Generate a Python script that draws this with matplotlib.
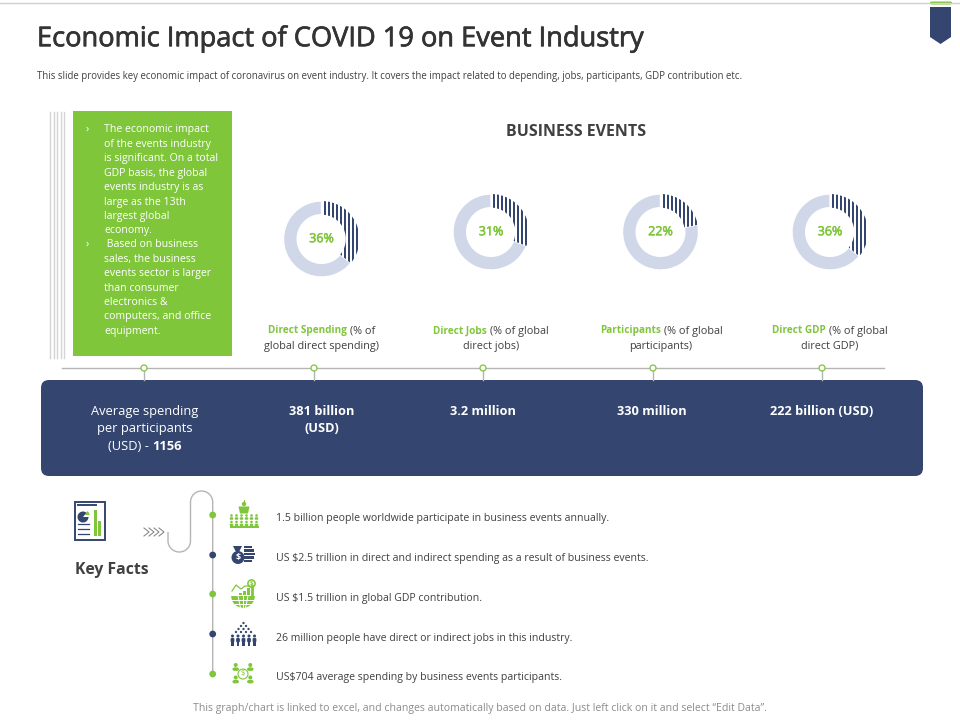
#!/usr/bin/env python3
"""Economic impact of COVID 19 slide, redrawn in pixel coordinates."""

import numpy as np
import matplotlib
matplotlib.use("Agg")
import matplotlib.pyplot as plt
import matplotlib.patheffects as pe
from matplotlib.patches import Circle, FancyBboxPatch, Polygon, Rectangle, Wedge, PathPatch
from matplotlib.path import Path

plt.rcParams["font.family"] = ["Open Sans", "DejaVu Sans"]

NAVY = "#34466F"
GREEN = "#7FC63B"
PALE = "#CFD7E8"
DARK = "#404040"
GREY = "#B5B5B5"

# donut values
shares = [36, 31, 22, 36]
donut_x = [321.5, 491, 660.5, 830]
donut_y = [239, 232, 232, 232]
caption_green = ["Direct Spending", "Direct Jobs", "Participants", "Direct GDP"]
caption_rest = ["(% of", "(% of global", "(% of global", "(% of global"]
caption_second = ["global direct spending)", "direct jobs)", "participants)", "direct GDP)"]
caption_x = [322, 491, 661, 830]

# band under the donuts
band_x = [322, 483, 652, 822]
band_values = [["381 billion", "(USD)"], ["3.2 million"], ["330 million"], ["222 billion (USD)"]]
node_x = [144, 314, 483, 653, 822]

panel_lines = [
    "The economic impact", "of the events industry", "is significant. On a total",
    "GDP basis, the global", "events industry is as", "large as the 13th",
    "largest global", "economy.", " Based on business", "sales, the business",
    "events sector is larger", "than consumer", "electronics &",
    "computers, and office", "equipment.",
]
panel_y = [128, 143, 157, 172, 186, 201, 215, 229, 243, 258, 272, 287, 301, 315, 330]

facts = [
    "1.5 billion people worldwide participate in business events annually.",
    "US $2.5 trillion in direct and indirect spending as a result of business events.",
    "US $1.5 trillion in global GDP contribution.",
    "26 million people have direct or indirect jobs in this industry.",
    "US$704 average spending by business events participants.",
]
fact_y = [517, 557, 597, 637, 676]
dot_y = [515, 555, 594, 634, 674]

fig = plt.figure(figsize=(9.6, 7.2), dpi=100)
ax = fig.add_axes([0, 0, 1, 1])
ax.set_xlim(0, 960)
ax.set_ylim(720, 0)
ax.axis("off")


def txt(x, y, s, size=7.5, color=DARK, ha="left", weight="normal", **kw):
    # y is the middle of the capitals, converted to a baseline so mixed runs line up
    return ax.text(x, y + 0.47 * size, s, fontsize=size, color=color, ha=ha, va="baseline",
                   fontweight=weight, **kw)


def runs(cx, y, parts):
    """Centre a line made of differently styled pieces on cx."""
    renderer = fig.canvas.get_renderer()
    items = [txt(0, y, s, size=z, color=c, weight=w) for s, c, w, z in parts]
    widths = [t.get_window_extent(renderer).width for t in items]
    gap = parts[-1][3] * 0.4
    total = sum(widths) + gap * (len(items) - 1)
    x = cx - total / 2
    for t, w in zip(items, widths):
        t.set_x(x)
        x += w + gap


def person(x, y, color, head=1.5, w=3.6, h=5):
    ax.add_patch(Circle((x, y), head, fc=color, lw=0))
    ax.add_patch(FancyBboxPatch((x - w / 2, y + head + 0.4), w, h,
                                boxstyle="round,pad=0,rounding_size=%.2f" % (w * 0.35),
                                fc=color, lw=0))


def icon_crowd(cx, cy):
    ax.add_patch(Circle((cx, cy - 10), 2.2, fc=GREEN, lw=0))
    ax.plot([cx, cx], [cy - 14, cy - 12], color=GREEN, lw=0.8)
    ax.add_patch(Polygon([(cx - 5.5, cy - 7.5), (cx + 5.5, cy - 7.5), (cx + 4, cy - 0.5), (cx - 4, cy - 0.5)],
                         fc=GREEN, lw=0))
    for row_y in (cy + 1.5, cy + 8):
        for i in range(6):
            person(cx - 12.5 + i * 5, row_y, GREEN, head=1.3, w=3.6, h=2.6)
    ax.add_patch(Rectangle((cx - 14.5, cy + 11.5), 29, 2.3, fc=GREEN, lw=0))


def icon_money(cx, cy):
    ax.add_patch(Circle((cx - 5, cy + 2.5), 6.5, fc=NAVY, lw=0))
    ax.add_patch(Polygon([(cx - 10, cy - 9), (cx - 1, cy - 9), (cx - 4, cy - 3), (cx - 7, cy - 3)],
                         fc=NAVY, lw=0))
    ax.text(cx - 5, cy + 3, "$", fontsize=6.5, color="white", ha="center", va="center", fontweight="bold")
    for i, w in enumerate((8, 10, 11, 10, 8)):
        ax.add_patch(Rectangle((cx + 1, cy - 9 + i * 3.4), w, 2.3, fc=NAVY, lw=0))


def icon_globe(cx, cy):
    # y axis runs downwards, so 0-180 is the lower half
    ax.add_patch(Wedge((cx, cy + 2), 11.8, 0, 180, fc=GREEN, lw=0))
    for dx in (-5, 0, 5):
        ax.plot([cx + dx, cx + dx * 0.5], [cy + 2, cy + 14], color="white", lw=0.7)
    for dy, half in ((5.5, 11), (9.5, 8)):
        ax.plot([cx - half, cx + half], [cy + dy, cy + dy], color="white", lw=0.7)
    for dx, h in ((-4, 2.5), (0, 4), (4, 7)):
        ax.add_patch(Rectangle((cx + dx, cy + 1 - h), 2.6, h, fc=GREEN, lw=0))
    ax.plot([cx - 11, cx - 7, cx - 2, cx + 2, cx + 7], [cy - 3, cy - 9, cy - 5, cy - 8, cy - 8],
            color=GREEN, lw=0.9)
    ax.plot([cx + 8.5, cx + 8.5], [cy - 8, cy + 1], color=GREEN, lw=2)
    ax.add_patch(Circle((cx + 8.5, cy - 10.5), 3.6, fc="white", ec=GREEN, lw=1.1))
    ax.text(cx + 8.5, cy - 10.5, "$", fontsize=4.5, color=GREEN, ha="center", va="center", fontweight="bold")


def icon_pyramid(cx, cy):
    for row in range(4):
        for i in range(row + 1):
            ax.add_patch(Circle((cx + (i - row / 2) * 5, cy - 11 + row * 3), 1.15, fc=NAVY, lw=0))
    for i in range(5):
        person(cx - 11 + i * 5.5, cy + 2, NAVY, head=1.5, w=3.8, h=4.5)
        ax.add_patch(Rectangle((cx - 12.2 + i * 5.5, cy + 7), 2.4, 5, fc=NAVY, lw=0))


def icon_ring(cx, cy):
    ax.add_patch(Circle((cx, cy), 5, fc="white", ec=GREEN, lw=0.8))
    ax.text(cx, cy, "$", fontsize=5.5, color=GREEN, ha="center", va="center")
    for dx, dy in ((-7.3, -6.5), (7.3, -6.5), (-7.3, 6), (7.3, 6)):
        person(cx + dx, cy + dy - 2.5, GREEN, head=2, w=7, h=3.5)


# top strip and pennant
ax.plot([0, 960], [3, 3], color="#D0D0D0", lw=1)
ax.add_patch(FancyBboxPatch((930, 1.5), 22, 3, boxstyle="round,pad=0,rounding_size=1.5", fc=GREEN, lw=0))
ax.add_patch(Polygon([(930, 7), (951, 7), (951, 37), (940.5, 44), (930, 37)], fc=NAVY, lw=0))

txt(37, 37, "Economic Impact of COVID 19 on Event Industry", size=19.6, color="#333333",
    path_effects=[pe.withStroke(linewidth=0.5, foreground="#333333")])
txt(37, 76, "This slide provides key economic impact of coronavirus on event industry. It covers the "
    "impact related to depending, jobs, participants, GDP contribution etc.", size=6.95)

# left panel
for x in (50, 53.5, 57, 60.5, 64):
    ax.plot([x, x], [112, 358], color="#D4D4D4", lw=1)
ax.add_patch(Rectangle((73, 111), 159, 245, fc=GREEN, lw=0))
for y in (128, 243):
    txt(87, y, "›", size=8, color="white", ha="center")
for y, s in zip(panel_y, panel_lines):
    txt(104, y, s, size=7.6, color="white")

txt(576, 131, "BUSINESS EVENTS", size=11.5, ha="center", weight="bold")

# donuts
R = 38
for share, x, y in zip(shares, donut_x, donut_y):
    dax = fig.add_axes([(x - R) / 960, 1 - (y + R) / 720, 2 * R / 960, 2 * R / 720])
    wedges, _ = dax.pie([share, 100 - share], startangle=90, counterclock=False, radius=1,
                        colors=["white", PALE], wedgeprops={"width": 0.36, "linewidth": 0})
    wedges[1].set_edgecolor("white")
    wedges[1].set_linewidth(1)
    # vertical stripes, 4 px apart, cut to the wedge of the share
    for sx in np.arange(3, R + 1, 4) / R:
        stripe, = dax.plot([sx, sx], [-1, 1], color=NAVY, lw=1.44, solid_capstyle="butt")
        stripe.set_clip_path(wedges[0])
    dax.set_xlim(-1, 1)
    dax.set_ylim(-1, 1)
    dax.axis("off")
    dax.patch.set_alpha(0)
    txt(x, y - 1, "%d%%" % share, size=9, color=GREEN, ha="center",
        path_effects=[pe.withStroke(linewidth=0.4, foreground=GREEN)])

for cx, g, rest, second in zip(caption_x, caption_green, caption_rest, caption_second):
    runs(cx, 330, [(g, GREEN, "bold", 7.2), (rest, DARK, "normal", 7.8)])
    txt(cx, 345, second, size=7.8, ha="center")

# timeline and band
ax.plot([62, 884], [368, 368], color=GREY, lw=1)
for x in node_x:
    ax.plot([x, x], [368, 380], color=GREY, lw=1)
    ax.add_patch(Circle((x, 368), 3, fc="white", ec=GREEN, lw=0.9, zorder=3))
ax.add_patch(FancyBboxPatch((41, 380), 882, 96, boxstyle="round,pad=0,rounding_size=8", fc=NAVY, lw=0))

txt(145, 411, "Average spending", size=9.3, color="white", ha="center")
txt(145, 428, "per participants", size=9.3, color="white", ha="center")
runs(145, 446, [("(USD) -", "white", "normal", 9.3), ("1156", "white", "bold", 9.3)])
for x, lines in zip(band_x, band_values):
    for i, line in enumerate(lines):
        txt(x, 411 + i * 17, line, size=9.2, color="white", ha="center", weight="bold")

# key facts: report icon
ax.add_patch(Rectangle((75, 502), 29.5, 38, fc="white", ec=NAVY, lw=1.4))
ax.plot([78, 96], [505, 505], color=NAVY, lw=1.4)
ax.add_patch(Wedge((83, 517), 5.5, 0, 310, fc=NAVY, lw=0))
ax.add_patch(Wedge((85, 515), 4.5, 300, 360, fc=GREEN, lw=0))
for y in (524, 529, 534):
    ax.plot([78, 89], [y, y], color=NAVY, lw=0.9)
ax.add_patch(Rectangle((94.3, 510), 2.8, 25.5, fc=GREEN, lw=0))
ax.add_patch(Rectangle((98.2, 521), 2.4, 14.5, fc=GREEN, lw=0))
txt(75, 569, "Key Facts", size=11.3, weight="bold")

for x in (144, 149, 154, 159):
    ax.plot([x, x + 5, x], [528, 532, 536], color="#8A8A8A", lw=0.8)

# s-shaped connector
verts = [(168, 532), (168, 541),
         (168, 547), (173, 552), (179.25, 552), (185.5, 552), (190.5, 547), (190.5, 541),
         (190.5, 502),
         (190.5, 496), (195.5, 491), (201.6, 491), (207.7, 491), (212.7, 496), (212.7, 502),
         (212.7, 674)]
codes = [Path.MOVETO, Path.LINETO] + [Path.CURVE4] * 6 + [Path.LINETO] + [Path.CURVE4] * 6 + [Path.LINETO]
ax.add_patch(PathPatch(Path(verts, codes), fc="none", ec=GREY, lw=1))

for i, y in enumerate(dot_y):
    ax.add_patch(Circle((212.7, y), 3.4, fc=GREEN if i % 2 == 0 else NAVY, lw=0, zorder=3))

icon_crowd(244, 514)
icon_money(243, 555)
icon_globe(243, 594)
icon_pyramid(243.5, 634)
icon_ring(243, 674)

for y, s in zip(fact_y, facts):
    txt(276, y, s, size=7.6)

txt(480, 707, "This graph/chart is linked to excel, and changes automatically based on data. "
    "Just left click on it and select “Edit Data”.", size=7.6, color="#8C8C8C", ha="center")

fig.savefig("out.png", dpi=100)
